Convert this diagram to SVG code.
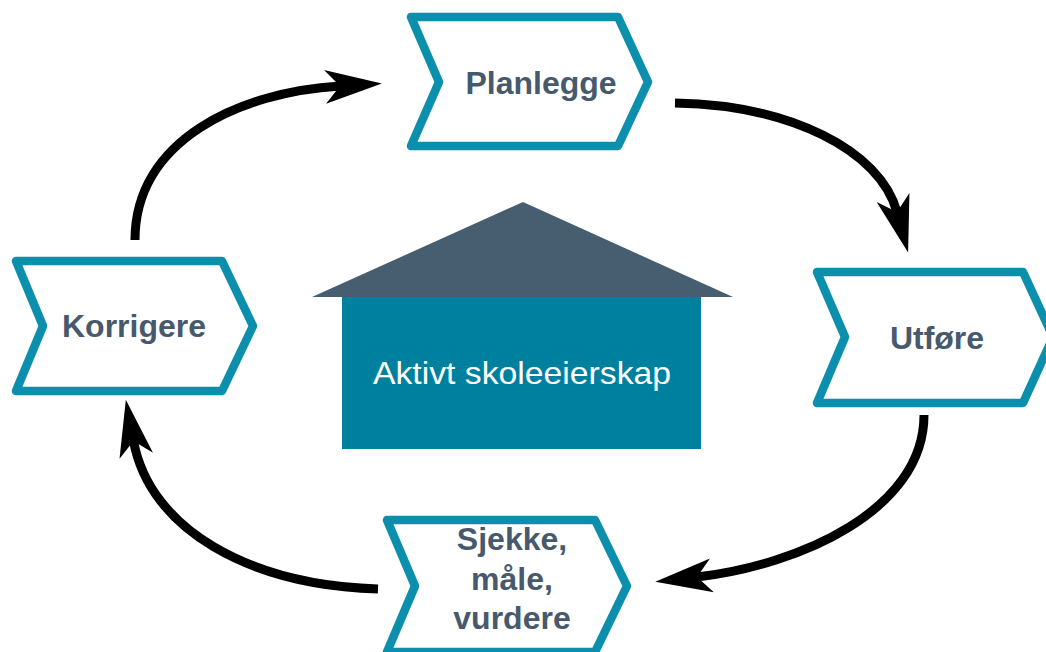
<svg xmlns="http://www.w3.org/2000/svg" width="1046" height="652" viewBox="0 0 1046 652">
<style>
.chev{fill:#ffffff;stroke:#0b8fad;stroke-width:8.5;stroke-linejoin:round}
.lbl{font-family:"Liberation Sans",Arial,sans-serif;font-weight:bold;font-size:32px;fill:#475a6d;text-anchor:middle}
.arr{fill:none;stroke:#000000;stroke-width:9}
</style>
<defs>
<marker id="ah" markerUnits="userSpaceOnUse" orient="auto" refX="0" refY="0" markerWidth="120" markerHeight="120" viewBox="-60 -60 120 120" overflow="visible">
<path d="M-15,-17 L42,0 L-15,17 L0,0 Z" fill="#000000"/>
</marker>
</defs>
<rect width="1046" height="652" fill="#ffffff"/>
<g id="connectors">
<path class="arr" d="M135,240 C135,140 240,92 340,86" marker-end="url(#ah)"/>
<path class="arr" d="M675,103 C790,105 880,150 897,212" marker-end="url(#ah)"/>
<path class="arr" d="M924,415 C924,510 800,565 697,577" marker-end="url(#ah)"/>
<path class="arr" d="M378,589 C250,585 150,530 133.5,441" marker-end="url(#ah)"/>
</g>
<g id="house">
<polygon points="523,202 312,297 733,297" fill="#475d70"/>
<rect x="342" y="297" width="359" height="152" fill="#00809f"/>
<text x="522" y="384" font-family="'Liberation Sans',Arial,sans-serif" font-size="32" fill="#ffffff" text-anchor="middle" textLength="298" lengthAdjust="spacingAndGlyphs">Aktivt skoleeierskap</text>
</g>
<g id="planlegge">
<polygon class="chev" points="411,17 618,17 648,82 618,146 411,146 439,82"/>
<text class="lbl" x="541" y="94">Planlegge</text>
</g>
<g id="utfore">
<polygon class="chev" points="817,272 1023,272 1053,337 1023,403 817,403 845,337"/>
<text class="lbl" x="937" y="349">Utføre</text>
</g>
<g id="sjekke">
<polygon class="chev" points="387,520 595,520 627,586 595,652 387,652 415,586"/>
<text class="lbl" x="512" y="550">Sjekke,</text>
<text class="lbl" x="512" y="590">måle,</text>
<text class="lbl" x="512" y="629">vurdere</text>
</g>
<g id="korrigere">
<polygon class="chev" points="16,261 222,261 253,326 222,391 16,391 43,326"/>
<text class="lbl" x="134" y="337">Korrigere</text>
</g>
</svg>
